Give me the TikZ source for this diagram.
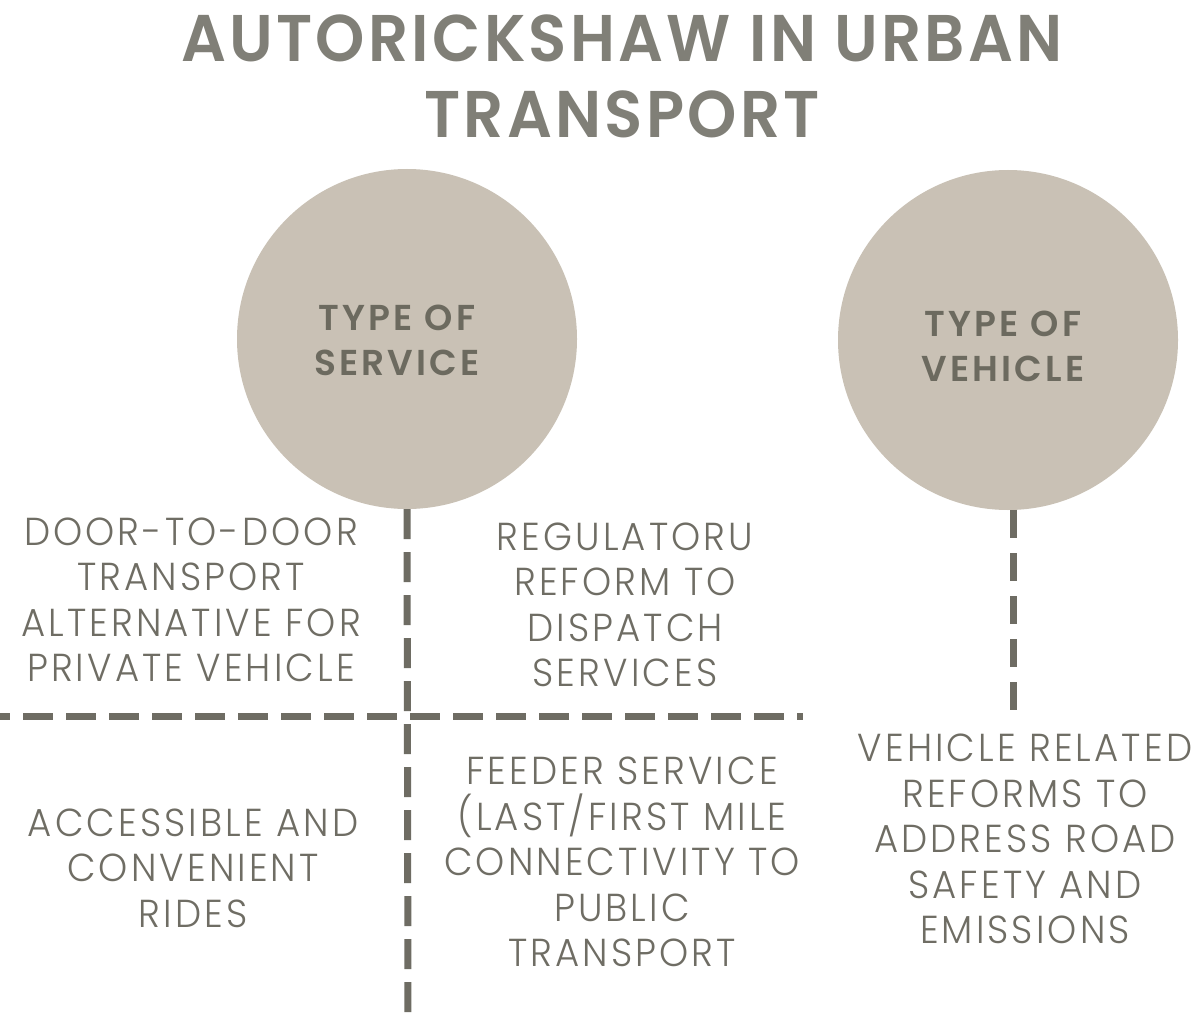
\documentclass[tikz,border=0pt]{standalone}
\usepackage{fontspec}
\setmainfont{Poppins}
\newfontfamily\lightfont{Poppins Light}[LetterSpace=8,FakeStretch=0.95]
\newfontfamily\semifont{Poppins SemiBold}[LetterSpace=9]
\newfontfamily\titlefont{Poppins SemiBold}[LetterSpace=5,FakeStretch=0.95]
\definecolor{titlegrey}{HTML}{807F77}
\definecolor{circfill}{HTML}{C9C1B5}
\definecolor{circtext}{HTML}{6C6A5F}
\definecolor{bodytext}{HTML}{6F6D64}
\definecolor{dashgrey}{HTML}{6E6C63}
\begin{document}
\begin{tikzpicture}[x=1pt,y=-1pt,
  titletext/.style={text=titlegrey,font=\titlefont\fontsize{66}{76}\selectfont,align=center,inner sep=0pt},
  bubble/.style={circle,fill=circfill,minimum size=340pt,inner sep=0pt},
  bubbletext/.style={align=center,inner sep=0pt,text=circtext,font=\semifont\fontsize{36}{45}\selectfont},
  bodybox/.style={text=bodytext,font=\lightfont\fontsize{39}{45.5}\selectfont,align=center,inner sep=0pt},
  dashline/.style={draw=dashgrey,line width=7pt,dash pattern=on 30pt off 13pt}]
\useasboundingbox (0,0) rectangle (1201,1016);
\fill[white] (0,0) rectangle (1201,1016);
% title
\node[titletext] (title) at (622,76) {AUTORICKSHAW IN URBAN\\TRANSPORT};
% circles
\node[bubble] (svc) at (407,339) {};
\node[bubble] (veh) at (1008,340) {};
\node[bubbletext] (svct) at (397,340) {TYPE OF\\SERVICE};
\node[bubbletext] (veht) at (1003,346) {TYPE OF\\VEHICLE};
% dashed lines
\coordinate (svcend) at (408,1016);
\coordinate (hstart) at (0,716);
\coordinate (hend) at (803,716);
\coordinate (vehend) at (1013,712);
\draw[dashline] (svc.south) -- (svcend);
\draw[dashline,dash phase=20pt] (hstart) -- (hend);
\draw[dashline,dash pattern=on 28pt off 15pt] (veh.south -| vehend) -- (vehend);
% texts
\node[bodybox] (t1) at (191,600) {DOOR-TO-DOOR\\TRANSPORT\\ALTERNATIVE FOR\\PRIVATE VEHICLE};
\node[bodybox] (t2) at (625,605) {REGULATORU\\REFORM TO\\DISPATCH\\SERVICES};
\node[bodybox] (t3) at (193,868) {ACCESSIBLE AND\\CONVENIENT\\RIDES};
\node[bodybox] (t4) at (622,862) {FEEDER SERVICE\\(LAST/FIRST MILE\\CONNECTIVITY TO\\PUBLIC\\TRANSPORT};
\node[bodybox] (t5) at (1025,839) {VEHICLE RELATED\\REFORMS TO\\ADDRESS ROAD\\SAFETY AND\\EMISSIONS};
\end{tikzpicture}
\end{document}
